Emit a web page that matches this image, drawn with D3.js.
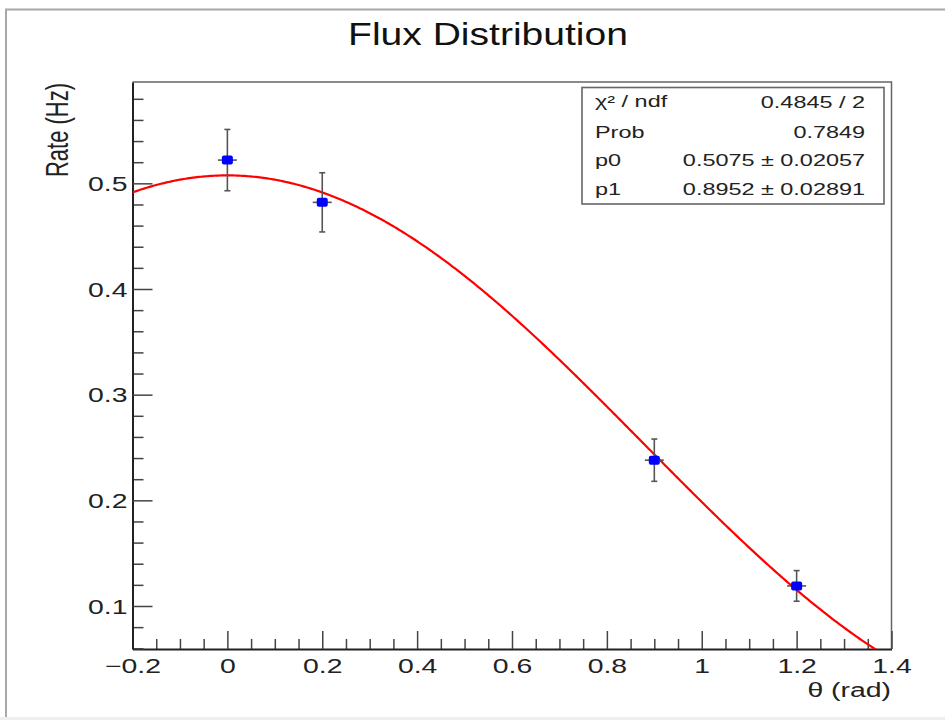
<!DOCTYPE html>
<html>
<head>
<meta charset="utf-8">
<script src="https://cdn.jsdelivr.net/npm/d3@7"></script>
<style>
  html, body { margin: 0; padding: 0; background: #ffffff; }
  svg { display: block; font-family: "Liberation Sans", Arial, Helvetica, sans-serif; }
</style>
</head>
<body>
<svg id="chart" width="945" height="720"></svg>
<script>
// Measured rates vs. zenith angle
const thetaValues = [0, 0.2, 0.9, 1.2];
const thetaErrors = [0.02, 0.02, 0.02, 0.02];
const rateValues  = [0.522, 0.482, 0.238, 0.119];
const rateErrors  = [0.029, 0.028, 0.020, 0.0145];

// Fit: p0 * cos^2(p1 * theta)
const p0 = 0.5075;
const p1 = 0.8952;

// Fit statistics box
const statLabels = ["χ² / ndf", "Prob", "p0", "p1"];
const statValues = ["0.4845 / 2", "0.7849", "0.5075 ± 0.02057", "0.8952 ± 0.02891"];

// Axis ticks
const xMajorTicks = [-0.2, 0, 0.2, 0.4, 0.6, 0.8, 1.0, 1.2, 1.4];
const yMajorTicks = [0.1, 0.2, 0.3, 0.4, 0.5];
const xDomain = [-0.2, 1.4];
const yDomain = [0.0593, 0.5959];

const titleText = "Flux Distribution";
const xTitle = "θ (rad)";
const yTitle = "Rate (Hz)";

const svg = d3.select("#chart");
const frame = { left: 132.5, right: 891.5, top: 82, bottom: 649 };
const SX = 1.42; // horizontal glyph stretch used throughout

const x = d3.scaleLinear().domain(xDomain).range([frame.left, frame.right]);
const y = d3.scaleLinear().domain(yDomain).range([frame.bottom, frame.top]);

// Canvas window border
svg.append("rect").attr("x", 0).attr("y", 717).attr("width", 945).attr("height", 3).attr("fill", "#eeeeee");
svg.append("path")
  .attr("d", "M6,717 L6,9.5 L945,9.5")
  .attr("fill", "none").attr("stroke", "#a8a8a8").attr("stroke-width", 2);

// Title
svg.append("text")
  .attr("transform", `translate(488,45) scale(1.22,1)`)
  .attr("text-anchor", "middle")
  .attr("font-size", 32)
  .attr("fill", "#111")
  .text(titleText);

// Frame top/right
svg.append("path")
  .attr("d", `M${frame.left},${frame.top} H${frame.right} V${frame.bottom}`)
  .attr("fill", "none").attr("stroke", "#666").attr("stroke-width", 1.5);

// Minor tick values
const xMinor = d3.range(-0.2, 1.4001, 0.05).map(v => +v.toFixed(2))
  .filter(v => !xMajorTicks.some(m => Math.abs(m - v) < 1e-6));
const yMinor = d3.range(0.06, 0.60, 0.02).map(v => +v.toFixed(2))
  .filter(v => v > yDomain[0] && v < yDomain[1] && !yMajorTicks.some(m => Math.abs(m - v) < 1e-6));

const fmt = d => {
  if (Math.abs(d) < 1e-9) return "0";
  return (d < 0 ? "\u2212" : "") + String(+Math.abs(d).toFixed(1));
};

// X axis
const gxMinor = svg.append("g").attr("transform", `translate(0,${frame.bottom})`)
  .call(d3.axisBottom(x).tickValues(xMinor).tickSize(-10).tickSizeOuter(0).tickFormat(""));
gxMinor.select(".domain").remove();
const gx = svg.append("g").attr("transform", `translate(0,${frame.bottom})`)
  .call(d3.axisBottom(x).tickValues(xMajorTicks).tickSize(-18).tickSizeOuter(0).tickFormat(fmt));
gx.select(".domain").attr("stroke", "#222").attr("stroke-width", 2);
gx.selectAll(".tick text")
  .attr("y", 24).attr("dy", null)
  .attr("transform", `scale(${SX},1)`)
  .attr("font-size", 20).attr("fill", "#222")
  .attr("font-family", "Liberation Sans, Arial, sans-serif");

// Y axis
const gyMinor = svg.append("g").attr("transform", `translate(${frame.left},0)`)
  .call(d3.axisLeft(y).tickValues(yMinor).tickSize(-11).tickSizeOuter(0).tickFormat(""));
gyMinor.select(".domain").remove();
const gy = svg.append("g").attr("transform", `translate(${frame.left},0)`)
  .call(d3.axisLeft(y).tickValues(yMajorTicks).tickSize(-20).tickSizeOuter(0).tickFormat(d3.format(".1f")));
gy.select(".domain").attr("stroke", "#222").attr("stroke-width", 2);
gy.selectAll(".tick text")
  .attr("x", -5 / SX).attr("y", 7).attr("dy", null)
  .attr("text-anchor", "end")
  .attr("transform", `scale(${SX},1)`)
  .attr("font-size", 20).attr("fill", "#222")
  .attr("font-family", "Liberation Sans, Arial, sans-serif");
svg.selectAll(".tick line").attr("stroke", "#444").attr("stroke-width", 1.5);

// Axis titles
svg.append("text")
  .attr("transform", `translate(891,697) scale(${SX},1)`)
  .attr("text-anchor", "end").attr("font-size", 20).attr("fill", "#222")
  .text(xTitle);
svg.append("text")
  .attr("transform", `translate(67.5,83) scale(${SX},1) rotate(-90)`)
  .attr("text-anchor", "end").attr("font-size", 22).attr("fill", "#222")
  .text(yTitle);

// Fit curve, clipped to the frame
svg.append("clipPath").attr("id", "frameClip")
  .append("rect").attr("x", frame.left).attr("y", frame.top)
  .attr("width", frame.right - frame.left).attr("height", frame.bottom - frame.top);
const fitFn = t => p0 * Math.cos(p1 * t) ** 2;
const curveData = d3.range(xDomain[0], xDomain[1] + 1e-9, 0.004).map(t => [t, fitFn(t)]);
svg.append("path")
  .datum(curveData)
  .attr("clip-path", "url(#frameClip)")
  .attr("fill", "none").attr("stroke", "#ff0000").attr("stroke-width", 2.2)
  .attr("d", d3.line().x(d => x(d[0])).y(d => y(d[1])));

// Data points with error bars
const pts = thetaValues.map((t, i) => ({ t, r: rateValues[i], et: thetaErrors[i], er: rateErrors[i] }));
const gp = svg.append("g");
const errColor = "#555";
gp.selectAll(".ev").data(pts).join("line")
  .attr("x1", d => x(d.t)).attr("x2", d => x(d.t))
  .attr("y1", d => y(d.r - d.er)).attr("y2", d => y(d.r + d.er))
  .attr("stroke", errColor).attr("stroke-width", 1.6);
gp.selectAll(".capT").data(pts).join("line")
  .attr("x1", d => x(d.t) - 3).attr("x2", d => x(d.t) + 3)
  .attr("y1", d => y(d.r + d.er)).attr("y2", d => y(d.r + d.er))
  .attr("stroke", errColor).attr("stroke-width", 1.6);
gp.selectAll(".capB").data(pts).join("line")
  .attr("x1", d => x(d.t) - 3).attr("x2", d => x(d.t) + 3)
  .attr("y1", d => y(d.r - d.er)).attr("y2", d => y(d.r - d.er))
  .attr("stroke", errColor).attr("stroke-width", 1.6);
gp.selectAll(".eh").data(pts).join("line")
  .attr("x1", d => x(d.t - d.et)).attr("x2", d => x(d.t + d.et))
  .attr("y1", d => y(d.r)).attr("y2", d => y(d.r))
  .attr("stroke", errColor).attr("stroke-width", 1.6);
gp.selectAll(".mk").data(pts).join("rect")
  .attr("x", d => x(d.t) - 5.5).attr("y", d => y(d.r) - 4.5)
  .attr("width", 11).attr("height", 9).attr("rx", 2)
  .attr("fill", "#0000ff");

// Statistics box
const box = { x: 582, y: 87.5, w: 302, h: 116.5 };
svg.append("rect")
  .attr("x", box.x).attr("y", box.y).attr("width", box.w).attr("height", box.h)
  .attr("fill", "#fff").attr("stroke", "#666").attr("stroke-width", 1.6);
const rowBase = [108, 137.5, 166, 194.5];
statLabels.forEach((lab, i) => {
  svg.append("text")
    .attr("transform", `translate(595,${rowBase[i] - (i === 0 ? 1 : 0)}) scale(${SX},1)`)
    .attr("font-size", 16.5).attr("fill", "#222")
    .text(lab);
  svg.append("text")
    .attr("transform", `translate(865,${rowBase[i]}) scale(${SX},1)`)
    .attr("text-anchor", "end")
    .attr("font-size", 16.5).attr("fill", "#222")
    .text(statValues[i]);
});
</script>
</body>
</html>
